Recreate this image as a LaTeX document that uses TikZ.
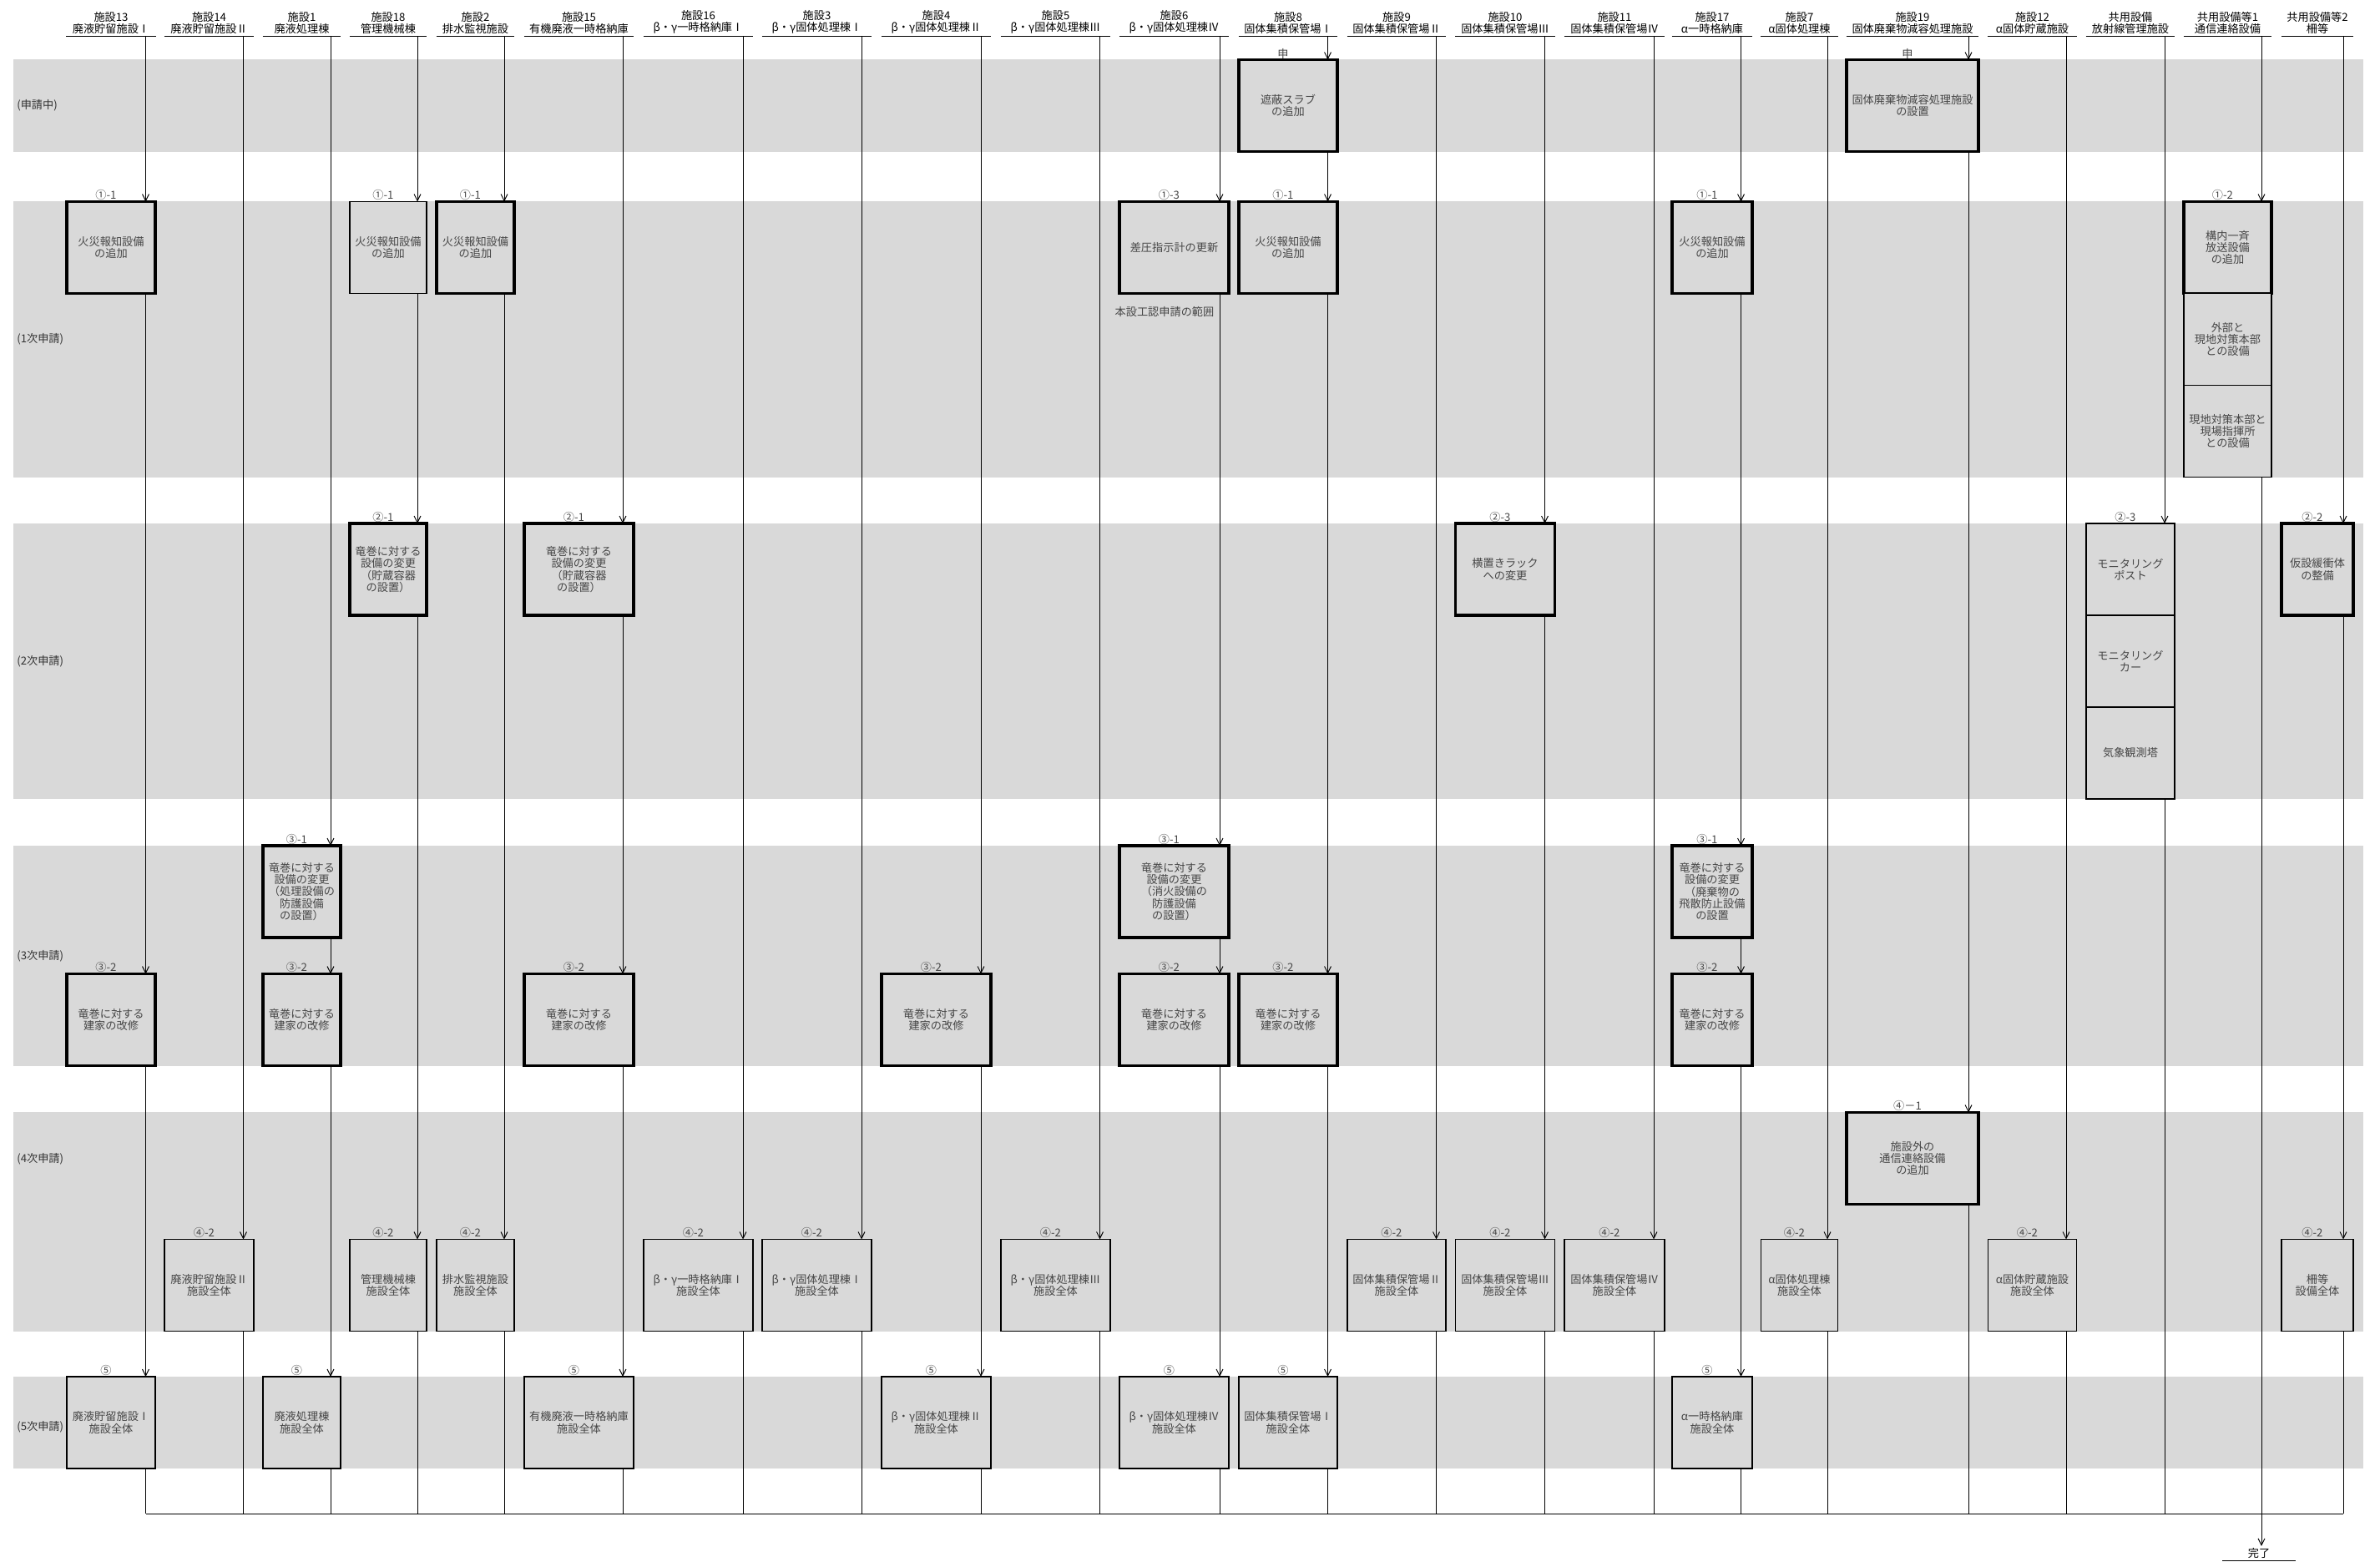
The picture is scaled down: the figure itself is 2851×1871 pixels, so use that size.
\documentclass[tikz,border=0pt]{standalone}
\usepackage{fontspec}
\setmainfont{Noto Sans CJK JP}
\usetikzlibrary{arrows.meta,positioning}
\definecolor{bandgray}{RGB}{217,217,217}
\definecolor{boxtext}{RGB}{70,70,70}

\begin{document}
\begin{tikzpicture}[x=0.02cm, y=-0.02cm,
  every node/.style={font=\fontsize{7.5}{8.2}\selectfont},
  wire/.style={line width=0.55pt},
  flow/.style={wire, -{Straight Barb[length=4.5pt,width=4.5pt]}},
  head/.style={align=center, anchor=south, inner xsep=0pt, inner ysep=1.2pt,
    append after command={(\tikzlastnode.south west) edge[wire] (\tikzlastnode.south east)}},
  keybox/.style={draw, line width=2.2pt, fill=bandgray, text=boxtext, align=center,
    minimum height=2.2cm, inner sep=0pt, outer sep=0pt},
  subbox/.style={keybox, line width=0.7pt},
  tag/.style={text=boxtext, inner sep=0.6pt, xshift=-0.12cm},
  phase/.style={anchor=west, inner sep=0pt, text=black!80}]
\useasboundingbox (0,0) rectangle (2851,1871);

\fill[bandgray] (16,71) rectangle (2831,182);
\fill[bandgray] (16,241) rectangle (2831,572);
\fill[bandgray] (16,627) rectangle (2831,957);
\fill[bandgray] (16,1013) rectangle (2831,1277);
\fill[bandgray] (16,1332) rectangle (2831,1595);
\fill[bandgray] (16,1649) rectangle (2831,1759);

\node[phase] (ph0) at (20,126) {(申請中)};
\node[phase] (ph1) at (20,406) {(1次申請)};
\node[phase] (ph2) at (20,792) {(2次申請)};
\node[phase] (ph3) at (20,1145) {(3次申請)};
\node[phase] (ph4) at (20,1388) {(4次申請)};
\node[phase] (ph5) at (20,1709) {(5次申請)};

\node[head, minimum width=2.14cm] (hd13) at (133,43) {施設13\\廃液貯留施設Ⅰ};
\node[head, minimum width=2.14cm] (hd14) at (250.5,43) {施設14\\廃液貯留施設Ⅱ};
\node[head, minimum width=1.86cm] (hd1) at (361.5,43) {施設1\\廃液処理棟};
\node[head, minimum width=1.84cm] (hd18) at (465,43) {施設18\\管理機械棟};
\node[head, minimum width=1.86cm] (hd2) at (569.5,43) {施設2\\排水監視施設};
\node[head, minimum width=2.62cm] (hd15) at (693.5,43) {施設15\\有機廃液一時格納庫};
\node[head, minimum width=2.62cm] (hd16) at (836.5,43) {施設16\\β・γ一時格納庫Ⅰ};
\node[head, minimum width=2.62cm] (hd3) at (978.5,43) {施設3\\β・γ固体処理棟Ⅰ};
\node[head, minimum width=2.62cm] (hd4) at (1121.5,43) {施設4\\β・γ固体処理棟Ⅱ};
\node[head, minimum width=2.62cm] (hd5) at (1264.5,43) {施設5\\β・γ固体処理棟Ⅲ};
\node[head, minimum width=2.62cm] (hd6) at (1406.5,43) {施設6\\β・γ固体処理棟Ⅳ};
\node[head, minimum width=2.36cm] (hd8) at (1543,43) {施設8\\固体集積保管場Ⅰ};
\node[head, minimum width=2.36cm] (hd9) at (1673,43) {施設9\\固体集積保管場Ⅱ};
\node[head, minimum width=2.38cm] (hd10) at (1803,43) {施設10\\固体集積保管場Ⅲ};
\node[head, minimum width=2.4cm] (hd11) at (1934,43) {施設11\\固体集積保管場Ⅳ};
\node[head, minimum width=1.92cm] (hd17) at (2051,43) {施設17\\α一時格納庫};
\node[head, minimum width=1.84cm] (hd7) at (2155.5,43) {施設7\\α固体処理棟};
\node[head, minimum width=3.16cm] (hd19) at (2291,43) {施設19\\固体廃棄物減容処理施設};
\node[head, minimum width=2.12cm] (hd12) at (2434.5,43) {施設12\\α固体貯蔵施設};
\node[head, minimum width=2.12cm] (hdk) at (2552,43) {共用設備\\放射線管理施設};
\node[head, minimum width=2.1cm] (hdk1) at (2668.5,43) {共用設備等1\\通信連絡設備};
\node[head, minimum width=1.72cm] (hdk2) at (2776,43) {共用設備等2\\柵等};

\coordinate (top13) at (174.5,43);  \coordinate (end13) at (174.5,1813);
\coordinate (top14) at (291.5,43);  \coordinate (end14) at (291.5,1813);
\coordinate (top1) at (396,43);     \coordinate (end1) at (396,1813);
\coordinate (top18) at (500,43);    \coordinate (end18) at (500,1813);
\coordinate (top2) at (604,43);     \coordinate (end2) at (604,1813);
\coordinate (top15) at (746,43);    \coordinate (end15) at (746,1813);
\coordinate (top16) at (890,43);    \coordinate (end16) at (890,1813);
\coordinate (top3) at (1032,43);    \coordinate (end3) at (1032,1813);
\coordinate (top4) at (1175,43);    \coordinate (end4) at (1175,1813);
\coordinate (top5) at (1317.5,43);  \coordinate (end5) at (1317.5,1813);
\coordinate (top6) at (1461,43);    \coordinate (end6) at (1461,1813);
\coordinate (top8) at (1590.5,43);  \coordinate (end8) at (1590.5,1813);
\coordinate (top9) at (1720.5,43);  \coordinate (end9) at (1720.5,1813);
\coordinate (top10) at (1850.5,43); \coordinate (end10) at (1850.5,1813);
\coordinate (top11) at (1981,43);   \coordinate (end11) at (1981,1813);
\coordinate (top17) at (2085.5,43); \coordinate (end17) at (2085.5,1813);
\coordinate (top7) at (2189,43);    \coordinate (end7) at (2189,1813);
\coordinate (top19) at (2358,43);   \coordinate (end19) at (2358,1813);
\coordinate (top12) at (2475,43);   \coordinate (end12) at (2475,1813);
\coordinate (topk) at (2593,43);    \coordinate (endk) at (2593,1813);
\coordinate (topk1) at (2709,43);   \coordinate (endk1) at (2709,1813);
\coordinate (topk2) at (2807,43);   \coordinate (endk2) at (2807,1813);

\node[keybox, minimum width=2.36cm] (p8) at (1543,126.5) {遮蔽スラブ\\の追加};
\node[keybox, minimum width=3.16cm] (p19) at (2291,126.5) {固体廃棄物減容処理施設\\の設置};

\node[keybox, minimum width=2.12cm] (a13) at (133,296.5) {火災報知設備\\の追加};
\node[subbox, minimum width=1.84cm] (a18) at (465,296.5) {火災報知設備\\の追加};
\node[keybox, minimum width=1.86cm] (a2) at (569.5,296.5) {火災報知設備\\の追加};
\node[keybox, minimum width=2.62cm] (a6) at (1406.5,296.5) {差圧指示計の更新};
\node[keybox, minimum width=2.36cm] (a8) at (1543,296.5) {火災報知設備\\の追加};
\node[keybox, minimum width=1.92cm] (a17) at (2051,296.5) {火災報知設備\\の追加};
\node[keybox, minimum width=2.1cm] (ak1) at (2668.5,296.5) {構内一斉\\放送設備\\の追加};
\node[subbox, minimum width=2.1cm, below=0pt of ak1] (ak1b) {外部と\\現地対策本部\\との設備};
\node[subbox, minimum width=2.1cm, below=0pt of ak1b] (ak1c) {現地対策本部と\\現場指揮所\\との設備};
\node[text=boxtext] (range6) at (1395,373) {本設工認申請の範囲};

\node[keybox, minimum width=1.84cm] (b18) at (465,682) {竜巻に対する\\設備の変更\\（貯蔵容器\\の設置）};
\node[keybox, minimum width=2.62cm] (b15) at (693.5,682) {竜巻に対する\\設備の変更\\（貯蔵容器\\の設置）};
\node[keybox, minimum width=2.38cm] (b10) at (1803,682) {横置きラック\\への変更};
\node[subbox, minimum width=2.12cm] (bk) at (2552,682) {モニタリング\\ポスト};
\node[subbox, minimum width=2.12cm, below=0pt of bk] (bkb) {モニタリング\\カー};
\node[subbox, minimum width=2.12cm, below=0pt of bkb] (bkc) {気象観測塔};
\node[keybox, minimum width=1.72cm] (bk2) at (2776,682) {仮設緩衝体\\の整備};

\node[keybox, minimum width=1.86cm] (c1) at (361.5,1068) {竜巻に対する\\設備の変更\\（処理設備の\\防護設備\\の設置）};
\node[keybox, minimum width=2.62cm] (c6) at (1406.5,1068) {竜巻に対する\\設備の変更\\（消火設備の\\防護設備\\の設置）};
\node[keybox, minimum width=1.92cm] (c17) at (2051,1068) {竜巻に対する\\設備の変更\\（廃棄物の\\飛散防止設備\\の設置};

\node[keybox, minimum width=2.12cm] (d13) at (133,1221.5) {竜巻に対する\\建家の改修};
\node[keybox, minimum width=1.86cm] (d1) at (361.5,1221.5) {竜巻に対する\\建家の改修};
\node[keybox, minimum width=2.62cm] (d15) at (693.5,1221.5) {竜巻に対する\\建家の改修};
\node[keybox, minimum width=2.62cm] (d4) at (1121.5,1221.5) {竜巻に対する\\建家の改修};
\node[keybox, minimum width=2.62cm] (d6) at (1406.5,1221.5) {竜巻に対する\\建家の改修};
\node[keybox, minimum width=2.36cm] (d8) at (1543,1221.5) {竜巻に対する\\建家の改修};
\node[keybox, minimum width=1.92cm] (d17) at (2051,1221.5) {竜巻に対する\\建家の改修};

\node[keybox, minimum width=3.16cm] (e19) at (2291,1387.5) {施設外の\\通信連絡設備\\の追加};

\node[subbox, minimum width=2.14cm] (g14) at (250.5,1539.5) {廃液貯留施設Ⅱ\\施設全体};
\node[subbox, minimum width=1.84cm] (g18) at (465,1539.5) {管理機械棟\\施設全体};
\node[subbox, minimum width=1.86cm] (g2) at (569.5,1539.5) {排水監視施設\\施設全体};
\node[subbox, minimum width=2.62cm] (g16) at (836.5,1539.5) {β・γ一時格納庫Ⅰ\\施設全体};
\node[subbox, minimum width=2.62cm] (g3) at (978.5,1539.5) {β・γ固体処理棟Ⅰ\\施設全体};
\node[subbox, minimum width=2.62cm] (g5) at (1264.5,1539.5) {β・γ固体処理棟Ⅲ\\施設全体};
\node[subbox, minimum width=2.36cm] (g9) at (1673,1539.5) {固体集積保管場Ⅱ\\施設全体};
\node[subbox, minimum width=2.38cm] (g10) at (1803,1539.5) {固体集積保管場Ⅲ\\施設全体};
\node[subbox, minimum width=2.4cm] (g11) at (1934,1539.5) {固体集積保管場Ⅳ\\施設全体};
\node[subbox, minimum width=1.84cm] (g7) at (2155.5,1539.5) {α固体処理棟\\施設全体};
\node[subbox, minimum width=2.12cm] (g12) at (2434.5,1539.5) {α固体貯蔵施設\\施設全体};
\node[subbox, minimum width=1.72cm] (gk2) at (2776,1539.5) {柵等\\設備全体};

\node[subbox, minimum width=2.12cm] (h13) at (133,1704) {廃液貯留施設Ⅰ\\施設全体};
\node[subbox, minimum width=1.86cm] (h1) at (361.5,1704) {廃液処理棟\\施設全体};
\node[subbox, minimum width=2.62cm] (h15) at (693.5,1704) {有機廃液一時格納庫\\施設全体};
\node[subbox, minimum width=2.62cm] (h4) at (1121.5,1704) {β・γ固体処理棟Ⅱ\\施設全体};
\node[subbox, minimum width=2.62cm] (h6) at (1406.5,1704) {β・γ固体処理棟Ⅳ\\施設全体};
\node[subbox, minimum width=2.36cm] (h8) at (1543,1704) {固体集積保管場Ⅰ\\施設全体};
\node[subbox, minimum width=1.92cm] (h17) at (2051,1704) {α一時格納庫\\施設全体};

\node[tag, above=0pt of p8] (tp8) {申};
\node[tag, above=0pt of p19] (tp19) {申};
\node[tag, above=0pt of a13] (ta13) {①-1};
\node[tag, above=0pt of a18] (ta18) {①-1};
\node[tag, above=0pt of a2] (ta2) {①-1};
\node[tag, above=0pt of a6] (ta6) {①-3};
\node[tag, above=0pt of a8] (ta8) {①-1};
\node[tag, above=0pt of a17] (ta17) {①-1};
\node[tag, above=0pt of ak1] (tak1) {①-2};
\node[tag, above=0pt of b18] (tb18) {②-1};
\node[tag, above=0pt of b15] (tb15) {②-1};
\node[tag, above=0pt of b10] (tb10) {②-3};
\node[tag, above=0pt of bk] (tbk) {②-3};
\node[tag, above=0pt of bk2] (tbk2) {②-2};
\node[tag, above=0pt of c1] (tc1) {③-1};
\node[tag, above=0pt of c6] (tc6) {③-1};
\node[tag, above=0pt of c17] (tc17) {③-1};
\node[tag, above=0pt of d13] (td13) {③-2};
\node[tag, above=0pt of d1] (td1) {③-2};
\node[tag, above=0pt of d15] (td15) {③-2};
\node[tag, above=0pt of d4] (td4) {③-2};
\node[tag, above=0pt of d6] (td6) {③-2};
\node[tag, above=0pt of d8] (td8) {③-2};
\node[tag, above=0pt of d17] (td17) {③-2};
\node[tag, above=0pt of e19] (te19) {④－1};
\node[tag, above=0pt of g14] (tg14) {④-2};
\node[tag, above=0pt of g18] (tg18) {④-2};
\node[tag, above=0pt of g2] (tg2) {④-2};
\node[tag, above=0pt of g16] (tg16) {④-2};
\node[tag, above=0pt of g3] (tg3) {④-2};
\node[tag, above=0pt of g5] (tg5) {④-2};
\node[tag, above=0pt of g9] (tg9) {④-2};
\node[tag, above=0pt of g10] (tg10) {④-2};
\node[tag, above=0pt of g11] (tg11) {④-2};
\node[tag, above=0pt of g7] (tg7) {④-2};
\node[tag, above=0pt of g12] (tg12) {④-2};
\node[tag, above=0pt of gk2] (tgk2) {④-2};
\node[tag, above=0pt of h13] (th13) {⑤};
\node[tag, above=0pt of h1] (th1) {⑤};
\node[tag, above=0pt of h15] (th15) {⑤};
\node[tag, above=0pt of h4] (th4) {⑤};
\node[tag, above=0pt of h6] (th6) {⑤};
\node[tag, above=0pt of h8] (th8) {⑤};
\node[tag, above=0pt of h17] (th17) {⑤};

\draw[flow] (top13) -- (top13 |- a13.north);
\draw[flow] (top13 |- a13.south) -- (top13 |- d13.north);
\draw[flow] (top13 |- d13.south) -- (top13 |- h13.north);
\draw[wire] (top13 |- h13.south) -- (end13);

\draw[flow] (top14) -- (top14 |- g14.north);
\draw[wire] (top14 |- g14.south) -- (end14);

\draw[flow] (top1) -- (top1 |- c1.north);
\draw[flow] (top1 |- c1.south) -- (top1 |- d1.north);
\draw[flow] (top1 |- d1.south) -- (top1 |- h1.north);
\draw[wire] (top1 |- h1.south) -- (end1);

\draw[flow] (top18) -- (top18 |- a18.north);
\draw[flow] (top18 |- a18.south) -- (top18 |- b18.north);
\draw[flow] (top18 |- b18.south) -- (top18 |- g18.north);
\draw[wire] (top18 |- g18.south) -- (end18);

\draw[flow] (top2) -- (top2 |- a2.north);
\draw[flow] (top2 |- a2.south) -- (top2 |- g2.north);
\draw[wire] (top2 |- g2.south) -- (end2);

\draw[flow] (top15) -- (top15 |- b15.north);
\draw[flow] (top15 |- b15.south) -- (top15 |- d15.north);
\draw[flow] (top15 |- d15.south) -- (top15 |- h15.north);
\draw[wire] (top15 |- h15.south) -- (end15);

\draw[flow] (top16) -- (top16 |- g16.north);
\draw[wire] (top16 |- g16.south) -- (end16);

\draw[flow] (top3) -- (top3 |- g3.north);
\draw[wire] (top3 |- g3.south) -- (end3);

\draw[flow] (top4) -- (top4 |- d4.north);
\draw[flow] (top4 |- d4.south) -- (top4 |- h4.north);
\draw[wire] (top4 |- h4.south) -- (end4);

\draw[flow] (top5) -- (top5 |- g5.north);
\draw[wire] (top5 |- g5.south) -- (end5);

\draw[flow] (top6) -- (top6 |- a6.north);
\draw[flow] (top6 |- a6.south) -- (top6 |- c6.north);
\draw[flow] (top6 |- c6.south) -- (top6 |- d6.north);
\draw[flow] (top6 |- d6.south) -- (top6 |- h6.north);
\draw[wire] (top6 |- h6.south) -- (end6);

\draw[flow] (top8) -- (top8 |- p8.north);
\draw[flow] (top8 |- p8.south) -- (top8 |- a8.north);
\draw[flow] (top8 |- a8.south) -- (top8 |- d8.north);
\draw[flow] (top8 |- d8.south) -- (top8 |- h8.north);
\draw[wire] (top8 |- h8.south) -- (end8);

\draw[flow] (top9) -- (top9 |- g9.north);
\draw[wire] (top9 |- g9.south) -- (end9);

\draw[flow] (top10) -- (top10 |- b10.north);
\draw[flow] (top10 |- b10.south) -- (top10 |- g10.north);
\draw[wire] (top10 |- g10.south) -- (end10);

\draw[flow] (top11) -- (top11 |- g11.north);
\draw[wire] (top11 |- g11.south) -- (end11);

\draw[flow] (top17) -- (top17 |- a17.north);
\draw[flow] (top17 |- a17.south) -- (top17 |- c17.north);
\draw[flow] (top17 |- c17.south) -- (top17 |- d17.north);
\draw[flow] (top17 |- d17.south) -- (top17 |- h17.north);
\draw[wire] (top17 |- h17.south) -- (end17);

\draw[flow] (top7) -- (top7 |- g7.north);
\draw[wire] (top7 |- g7.south) -- (end7);

\draw[flow] (top19) -- (top19 |- p19.north);
\draw[flow] (top19 |- p19.south) -- (top19 |- e19.north);
\draw[wire] (top19 |- e19.south) -- (end19);

\draw[flow] (top12) -- (top12 |- g12.north);
\draw[wire] (top12 |- g12.south) -- (end12);

\draw[flow] (topk) -- (topk |- bk.north);
\draw[wire] (topk |- bkc.south) -- (endk);

\draw[flow] (topk1) -- (topk1 |- ak1.north);
\draw[wire] (topk1 |- ak1c.south) -- (endk1);

\draw[flow] (topk2) -- (topk2 |- bk2.north);
\draw[flow] (topk2 |- bk2.south) -- (topk2 |- gk2.north);
\draw[wire] (topk2 |- gk2.south) -- (endk2);

\draw[wire] (end13) -- (endk2);
\node[head, minimum width=1.74cm] (done) at (2706,1869) {完了};
\draw[flow] (endk1) -- (endk1 |- done.north);
\end{tikzpicture}
\end{document}
